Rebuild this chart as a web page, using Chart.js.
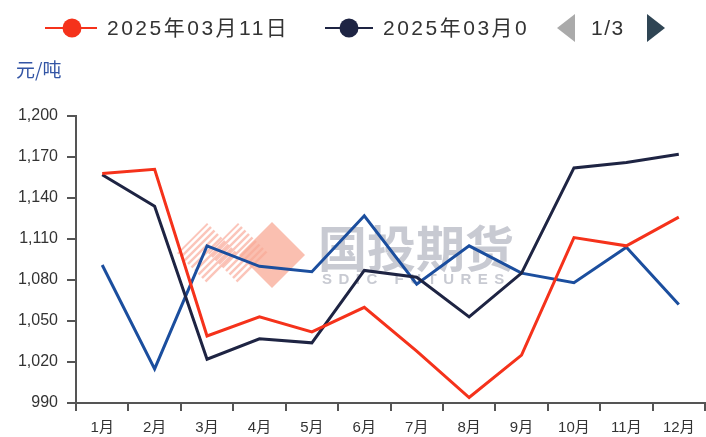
<!DOCTYPE html>
<html>
<head>
<meta charset="utf-8">
<script src="https://cdn.jsdelivr.net/npm/chart.js@4"></script>
<style>
html,body{margin:0;padding:0;background:#fff;}
#wrap{width:706px;height:437px;position:relative;}
</style>
</head>
<body>
<div id="wrap"><canvas id="c" width="706" height="437"></canvas></div>
<script>
const categories = ['1月','2月','3月','4月','5月','6月','7月','8月','9月','10月','11月','12月'];
const seriesA = [1158, 1161, 1039, 1053, 1042, 1060, 1028, 994, 1025, 1111, 1105, 1126];
const seriesB = [1157, 1134, 1022, 1037, 1034, 1087, 1082, 1053, 1085, 1162, 1166, 1172];
const seriesC = [1091, 1015, 1105, 1090, 1086, 1127, 1077, 1105, 1085, 1078, 1104, 1062];
const seriesLabels = ['2025年03月11日', '2025年03月0', '2025年03月'];
const legendShown = ['2025年03月11日', '2025年03月0'];
const pagerText = '1/3';
const unitLabel = '元/吨';
const yTicks = [990, 1020, 1050, 1080, 1110, 1140, 1170, 1200];
const colors = ['#f5321b', '#1e2443', '#1b4e9e'];

const FONT = '"Liberation Sans", Arial, "Noto Sans CJK SC", sans-serif';
const CJK = '"Noto Sans CJK SC", sans-serif';

const watermark = {
  id: 'watermark',
  beforeDatasetsDraw(chart) {
    const ctx = chart.ctx;
    ctx.save();
    const hatch = (cx, cy, h) => {
      ctx.save();
      ctx.beginPath();
      ctx.moveTo(cx - h, cy); ctx.lineTo(cx, cy - h); ctx.lineTo(cx + h, cy); ctx.lineTo(cx, cy + h);
      ctx.closePath();
      ctx.clip();
      ctx.strokeStyle = 'rgba(248,150,130,0.55)';
      ctx.lineWidth = 2.5;
      for (let k = -120; k < 120; k += 7) {
        ctx.beginPath();
        ctx.moveTo(cx + k - 60, cy + 60);
        ctx.lineTo(cx + k + 60, cy - 60);
        ctx.stroke();
      }
      ctx.restore();
    };
    hatch(207, 253, 30);
    hatch(238, 253, 30);
    ctx.fillStyle = 'rgba(248,170,150,0.75)';
    ctx.beginPath();
    const cx = 272, cy = 255, h = 33;
    ctx.moveTo(cx - h, cy); ctx.lineTo(cx, cy - h); ctx.lineTo(cx + h, cy); ctx.lineTo(cx, cy + h);
    ctx.closePath();
    ctx.fill();
    ctx.fillStyle = 'rgba(190,193,202,0.85)';
    ctx.font = 'bold 49px ' + CJK;
    ctx.textBaseline = 'middle';
    ctx.textAlign = 'left';
    ctx.fillText('国投期货', 318, 248);
    ctx.font = 'bold 15px ' + FONT;
    ctx.letterSpacing = '6.5px';
    ctx.fillText('SDIC FUTURES', 322, 280);
    ctx.restore();
  }
};

const legendPlugin = {
  id: 'customLegend',
  afterDraw(chart) {
    const ctx = chart.ctx;
    ctx.save();
    const y = 28;
    const items = [
      {x0: 45, cx: 72, x1: 97, tx: 107, color: colors[0], text: legendShown[0]},
      {x0: 325, cx: 349, x1: 373, tx: 383, color: colors[1], text: legendShown[1]}
    ];
    ctx.textBaseline = 'middle';
    ctx.textAlign = 'left';
    items.forEach(it => {
      ctx.strokeStyle = it.color;
      ctx.lineWidth = 2;
      ctx.beginPath(); ctx.moveTo(it.x0, y); ctx.lineTo(it.x1, y); ctx.stroke();
      ctx.fillStyle = it.color;
      ctx.beginPath(); ctx.arc(it.cx, y, 9.5, 0, Math.PI * 2); ctx.fill();
      ctx.fillStyle = '#333';
      ctx.font = '21px ' + FONT;
      ctx.letterSpacing = '2.5px';
      ctx.fillText(it.text, it.tx, y + 1);
    });
    ctx.letterSpacing = '0px';
    ctx.fillStyle = '#aaaaaa';
    ctx.beginPath(); ctx.moveTo(575, 14); ctx.lineTo(575, 42); ctx.lineTo(557, 28); ctx.closePath(); ctx.fill();
    ctx.fillStyle = '#333';
    ctx.font = '21px ' + FONT;
    ctx.letterSpacing = '1.5px';
    ctx.fillText(pagerText, 591, y + 1);
    ctx.letterSpacing = '0px';
    ctx.fillStyle = '#2f4554';
    ctx.beginPath(); ctx.moveTo(647, 14); ctx.lineTo(647, 42); ctx.lineTo(665, 28); ctx.closePath(); ctx.fill();
    ctx.fillStyle = '#3355a5';
    ctx.font = '19px ' + CJK;
    ctx.fillText(unitLabel, 16, 70);
    ctx.restore();
  }
};

const mk = (data, i) => ({
  label: seriesLabels[i], data, borderColor: colors[i], backgroundColor: colors[i],
  borderWidth: 3, pointRadius: 0, pointHoverRadius: 0, tension: 0, fill: false
});

new Chart(document.getElementById('c'), {
  type: 'line',
  data: { labels: categories, datasets: [mk(seriesA, 0), mk(seriesB, 1), mk(seriesC, 2)] },
  options: {
    responsive: false,
    animation: false,
    layout: { padding: { top: 116, right: 1, left: 0, bottom: 0 } },
    plugins: { legend: { display: false }, tooltip: { enabled: false } },
    scales: {
      x: {
        type: 'category',
        offset: true,
        grid: { offset: true, drawOnChartArea: false, drawTicks: true, tickLength: 8, color: '#555', lineWidth: 2 },
        border: { color: '#555', width: 2 },
        ticks: { color: '#333', font: { size: 15, family: FONT }, padding: 8, maxRotation: 0, autoSkip: false },
        afterFit(s) { s.height = 34; }
      },
      y: {
        min: yTicks[0], max: yTicks[yTicks.length - 1],
        afterBuildTicks(s) { s.ticks = yTicks.map(v => ({ value: v })); },
        grid: { drawOnChartArea: false, drawTicks: true, tickLength: 9, color: '#555', lineWidth: 2 },
        border: { color: '#555', width: 2 },
        ticks: {
          color: '#333', font: { size: 16, family: FONT }, padding: 9,
          callback: v => v.toLocaleString('en-US')
        },
        afterFit(s) { s.width = 76; }
      }
    }
  },
  plugins: [watermark, legendPlugin]
});
</script>
</body>
</html>
